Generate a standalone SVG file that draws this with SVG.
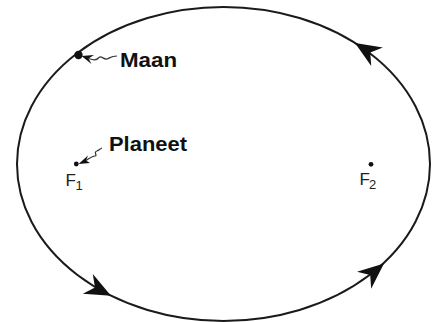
<svg xmlns="http://www.w3.org/2000/svg" width="432" height="322" viewBox="0 0 432 322">
<style>
.orbit{fill:none;stroke:#1a1a1a;stroke-width:2}
.lbl{font-family:"Liberation Sans",Arial,sans-serif;font-weight:bold;font-size:20px;fill:#111}
.f{font-family:"Liberation Sans",Arial,sans-serif;font-size:17px;fill:#222}
.sub{font-family:"Liberation Sans",Arial,sans-serif;font-size:13px;fill:#222}
.sq{fill:none;stroke:#333;stroke-width:1.2}
.ah{fill:#111}
</style>
<defs>
<path id="arr" d="M0,0 L-26,-11 L-18,0 L-26,11 Z"/>
</defs>
<rect width="432" height="322" fill="#fff"/>
<g id="orbit">
<ellipse class="orbit" cx="223.5" cy="164" rx="206.5" ry="157"/>
</g>
<g id="connectors">
<use href="#arr" class="ah" transform="translate(355,43) rotate(212)"/>
<use href="#arr" class="ah" transform="translate(111,295.7) rotate(27)"/>
<use href="#arr" class="ah" transform="translate(384,263.5) rotate(-40)"/>
<path class="ah" d="M81.5,56 L94,55 L88.5,58.5 L91.5,64 Z"/>
<path class="sq" d="M88.5,58.5 C93,60 96,61 99,57.5 C101,55 104,60 107,59 C110,58 111,56 117,56"/>
<path class="ah" d="M78.5,164 L88,155.5 L86,160.5 L90,163 Z"/>
<path class="sq" d="M86,160.5 C90,158 92,156 95,156 C98,156 93,152 97,151 C99,150 100,149 102,148"/>
</g>
<g id="maan">
<circle cx="78.5" cy="55" r="4.2" fill="#111"/>
<text class="lbl" x="120" y="67" textLength="57" lengthAdjust="spacingAndGlyphs">Maan</text>
</g>
<g id="planeet">
<circle cx="76.3" cy="164" r="2.4" fill="#111"/>
<text class="lbl" x="109" y="151" textLength="78" lengthAdjust="spacingAndGlyphs">Planeet</text>
<text class="f" x="65.5" y="185.5">F</text><text class="sub" x="75.5" y="189.5">1</text>
</g>
<g id="f2">
<circle cx="371" cy="164.3" r="2.4" fill="#111"/>
<text class="f" x="359.5" y="184.5">F</text><text class="sub" x="369" y="189">2</text>
</g>
</svg>
